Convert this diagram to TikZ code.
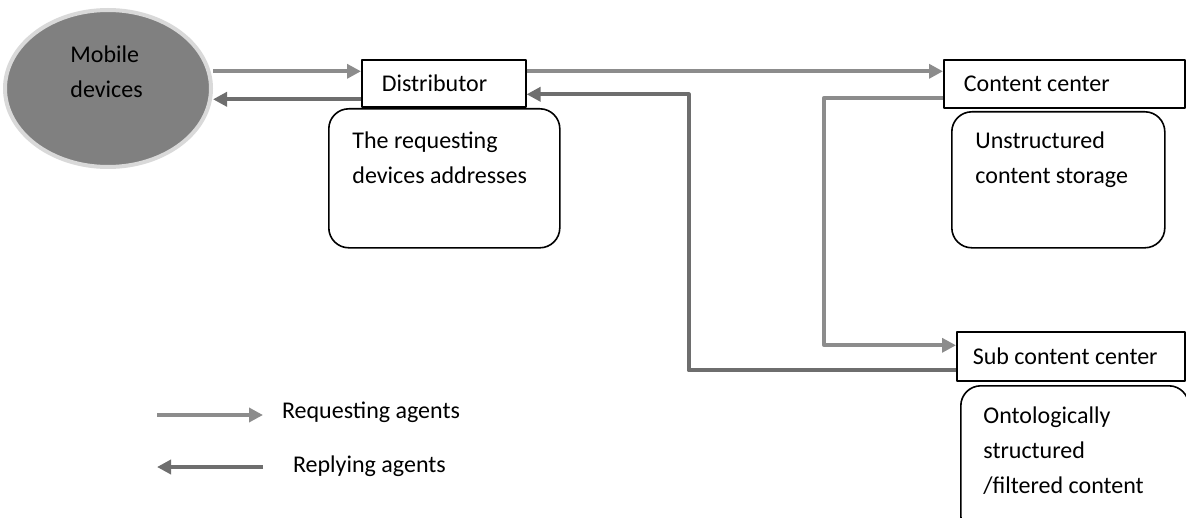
\documentclass[tikz,border=0pt]{standalone}
\usepackage{fontspec}
\setmainfont{Carlito}
\usetikzlibrary{arrows.meta,shapes.geometric,calc}
\definecolor{reqgray}{RGB}{140,140,140}
\definecolor{repgray}{RGB}{110,110,110}
\definecolor{mobgray}{RGB}{128,128,128}
\begin{document}
\begin{tikzpicture}[x=0.5pt,y=-0.5pt, line join=round,font=\fontsize{12}{17.5}\selectfont,>={Triangle[length=7pt,width=7pt]},
    box/.style={draw,line width=0.8pt,anchor=north west,inner xsep=10pt,text width=#1,align=flush left},
    store/.style={draw,line width=0.8pt,rounded corners=10pt,anchor=north west,minimum width=#1},
    note/.style={anchor=north west,align=flush left,inner sep=0pt},
    req/.style={->,draw=reqgray,line width=1.9pt},
    rep/.style={->,draw=repgray,line width=1.9pt}]
    \useasboundingbox (0,0) rectangle (1186,518);
    \clip (0,0) rectangle (1186,518);
    \node[ellipse,fill=mobgray,draw=gray!30,line width=2pt,minimum width=103pt,minimum height=78.5pt] (mob) at (108,88.5) {};
    \node[note] (mobtxt) at (70,45) {Mobile\\devices};
    \node[box=62pt,minimum height=23.5pt] (dist) at (361,59) {Distributor};
    \node[store=115.5pt,minimum height=69.5pt] (addr) at (328,108) {};
    \node[note] (addrtxt) at ([xshift=12pt,yshift=-11.5pt]addr.north west) {The requesting\\devices addresses};
    \node[box=100.5pt,minimum height=24pt] (cc) at (943,59) {Content center};
    \node[store=106.5pt,minimum height=68pt] (raw) at (951,111) {};
    \node[note] (rawtxt) at ([xshift=12pt,yshift=-10pt]raw.north west) {Unstructured\\content storage};
    \node[box=98pt,inner xsep=8pt,minimum height=24.5pt] (scc) at (956,331) {Sub content center};
    \node[store=114pt,minimum height=75pt] (onto) at (960,385) {};
    \node[note] (ontotxt) at ([xshift=11.5pt,yshift=-10.5pt]onto.north west) {Ontologically\\structured\\/filtered content};
    \draw[req] ($(mob.east |- dist.west)+(0,-12)$) -- ($(dist.west)+(0,-12)$);
    \draw[rep] ($(dist.west)+(0,16)$) -- ($(mob.east |- dist.west)+(0,16)$);
    \draw[req] ($(dist.east)+(0,-12)$) -- ($(cc.west |- dist.east)+(0,-12)$);
    \draw[req] ($(cc.west)+(0,14)$) -- ++(-119,0) |- ($(scc.west)+(0,-11)$);
    \draw[rep] ($(scc.west)+(0,14)$) -| ($(dist.east)+(162,11)$) -- ($(dist.east)+(0,11)$);
    \node[anchor=west] (reqkey) at (275,412) {Requesting agents};
    \node[anchor=west] (repkey) at (286,466) {Replying agents};
    \draw[req] ($(reqkey.west)+(-118,3)$) -- ($(reqkey.west)+(-12,3)$);
    \draw[rep] ($(repkey.west)+(-23,1)$) -- ($(repkey.west)+(-129,1)$);
\end{tikzpicture}
\end{document}
